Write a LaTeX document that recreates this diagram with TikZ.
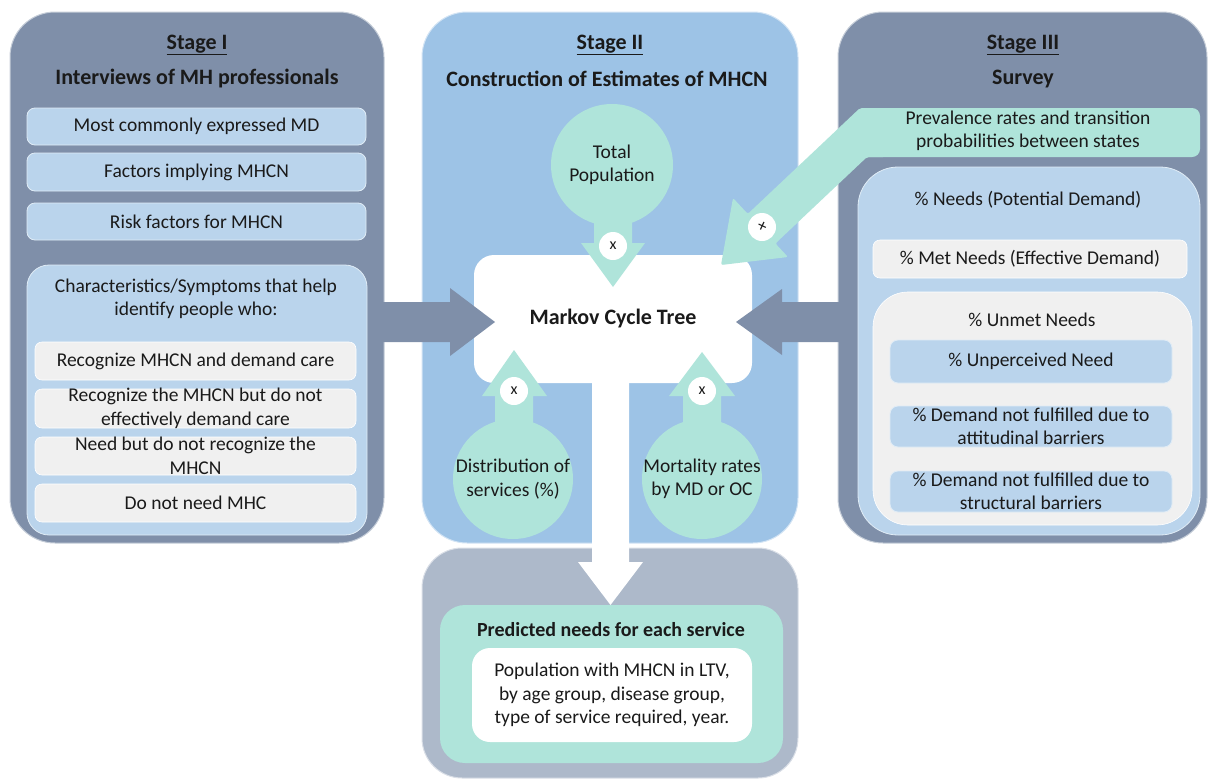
\documentclass[tikz,border=0pt]{standalone}
\usepackage{fontspec}
\setmainfont{Carlito}
\usetikzlibrary{calc}
\definecolor{stagegray}{RGB}{127,143,169}
\definecolor{stageblue}{RGB}{157,195,230}
\definecolor{lightblue}{RGB}{186,212,236}
\definecolor{boxgray}{RGB}{240,240,240}
\definecolor{mint}{RGB}{175,228,218}
\definecolor{bottomgray}{RGB}{173,185,202}
\definecolor{textcol}{RGB}{26,26,26}
\begin{document}
\begin{tikzpicture}[x=1pt,y=-1pt,
  stagebox/.style={fill=stagegray, draw=white!55!stagegray, line width=1pt, rounded corners=45pt, inner sep=0pt},
  bluebox/.style={fill=lightblue, draw=white!55!lightblue, line width=0.8pt, rounded corners=8pt, inner sep=0pt},
  graybox/.style={fill=boxgray, draw=white, line width=0.6pt, rounded corners=7pt, inner sep=0pt},
  txt/.style={font=\fontsize{19.5}{23.5}\selectfont, align=center, text=textcol, inner sep=0pt},
  ttl/.style={font=\fontsize{22}{26}\selectfont\bfseries, align=center, text=textcol, inner sep=0pt},
  mintcirc/.style={circle, fill=mint, inner sep=0pt, minimum size=122pt},
  xcirc/.style={circle, fill=white, inner sep=0pt, minimum size=28pt, font=\fontsize{16}{18}\selectfont, text=textcol},
  garrow/.style={fill=stagegray},
  marrow/.style={fill=mint},
  warrow/.style={fill=white}
]
\useasboundingbox (0,0) rectangle (1208,780);

% ---------- Stage boxes ----------
\node[stagebox, minimum width=374pt, minimum height=531pt] (s1) at (197,277.5) {};
\node[stagebox, fill=stageblue, draw=white!55!stageblue, minimum width=376pt, minimum height=531pt] (s2) at (610,277.5) {};
\node[stagebox, minimum width=369pt, minimum height=531pt] (s3) at (1022.5,277.5) {};
\node[stagebox, fill=bottomgray, draw=white!55!bottomgray, rounded corners=40pt, minimum width=376pt, minimum height=230pt] (s4) at (610,663) {};

% ---------- Stage I ----------
\node[ttl] (t1a) at (197,45) {\underline{Stage I}};
\node[ttl] (t1b) at (197,79) {Interviews of MH professionals};
\node[bluebox, minimum width=339pt, minimum height=37pt] (md) at (196.5,126.5) {};
\node[txt] (mdt) at (md) {Most commonly expressed MD};
\node[bluebox, minimum width=339pt, minimum height=38pt] (fac) at (196.5,172) {};
\node[txt] (fact) at (fac) {Factors implying MHCN};
\node[bluebox, minimum width=339pt, minimum height=37pt] (risk) at (196.5,221.5) {};
\node[txt] (riskt) at (risk) {Risk factors for MHCN};
\node[bluebox, rounded corners=22pt, minimum width=340pt, minimum height=270pt] (chr) at (197,400) {};
\node[txt] (chrt) at (196,299) {Characteristics/Symptoms that help\\identify people who:};
\node[graybox, minimum width=321pt, minimum height=38pt] (r1) at (195.5,361) {};
\node[txt] (r1t) at (r1) {Recognize MHCN and demand care};
\node[graybox, minimum width=321pt, minimum height=39pt] (r2) at (195.5,408.5) {};
\node[txt] (r2t) at (r2) {Recognize the MHCN but do not\\effectively demand care};
\node[graybox, minimum width=321pt, minimum height=38pt] (r3) at (195.5,456) {};
\node[txt] (r3t) at (r3) {Need but do not recognize the\\MHCN};
\node[graybox, minimum width=321pt, minimum height=38pt] (r4) at (195.5,503) {};
\node[txt] (r4t) at (r4) {Do not need MHC};

% ---------- Stage II ----------
\node[ttl] (t2a) at (610,45) {\underline{Stage II}};
\node[ttl] (t2b) at (607,79) {Construction of Estimates of MHCN};
\node[mintcirc] (tp) at (612,165) {};
\node[txt] (tpt) at (tp) {Total\\Population};
\node[mintcirc, minimum size=120pt] (dist) at (513,479) {};
\node[txt] (distt) at (dist) {Distribution of\\services (\%)};
\node[mintcirc, minimum size=120pt] (mort) at (702,479) {};
\node[txt] (mortt) at (mort) {Mortality rates\\by MD or OC};

\node[fill=white, rounded corners=20pt, minimum width=278pt, minimum height=128pt, inner sep=0pt] (mk) at (613,319) {};

% white output arrow
\coordinate (wtip) at (610.5,605);
\fill[warrow] (592,380) -- (592,562) -- (578,562) -- (wtip) -- (643,562) -- (629,562) -- (629,380) -- cycle;

% gray arrows
\coordinate (ltip) at (495,322);
\coordinate (rtip) at (736,322);
\fill[garrow] (382,302) -- (450,302) -- (450,288) -- (ltip) -- (450,356) -- (450,342) -- (382,342) -- cycle;
\fill[garrow] (841,302) -- (782,302) -- (782,289) -- (rtip) -- (782,355) -- (782,342) -- (841,342) -- cycle;

% mint arrows
\coordinate (tptip) at (613,287);
\fill[marrow] (594,215) -- (594,243) -- (581,243) -- (tptip) -- (645,243) -- (632,243) -- (632,215) -- cycle;
\coordinate (dtip) at (514,350);
\fill[marrow] (495,425) -- (495,396) -- (482,396) -- (dtip) -- (547,396) -- (533,396) -- (533,425) -- cycle;
\coordinate (mtip) at (702,352);
\fill[marrow] (683,425) -- (683,396) -- (669,396) -- (mtip) -- (735,396) -- (721,396) -- (721,425) -- cycle;

\node[ttl] (mkt) at (mk) {Markov Cycle Tree};

\node[xcirc] (x1) at (613,246) {x};
\node[xcirc] (x2) at (514,391) {x};
\node[xcirc] (x3) at (702,391) {x};

% ---------- Stage III ----------
\node[ttl] (t3a) at (1023,45) {\underline{Stage III}};
\node[ttl] (t3b) at (1023,79) {Survey};

\node[fill=mint, rounded corners=8pt, minimum width=340pt, minimum height=49pt, inner sep=0pt] (prev) at (1030,132.5) {};
\coordinate (ptip) at (721,265);
\fill[marrow, rounded corners=2pt] (885,108) -- (860,108) -- (747.8,213.9) -- (733,198) -- (ptip) -- (788,257) -- (775.4,243.5) -- (867,157) -- (885,157) -- cycle;
\node[txt] (prevt) at (1028,131) {Prevalence rates and transition\\probabilities between states};
\node[xcirc] (pc) at (762,227) {};
\node[font=\fontsize{18}{18}\selectfont, text=textcol, rotate=-25, inner sep=0pt] (pct) at (pc) {+};

\node[bluebox, rounded corners=40pt, minimum width=342pt, minimum height=368pt] (need) at (1029,351) {};
\node[txt] (needt) at (1028,200) {\% Needs (Potential Demand)};
\node[graybox, minimum width=314pt, minimum height=38pt] (met) at (1030,259) {};
\node[txt] (mett) at (met) {\% Met Needs (Effective Demand)};
\node[graybox, rounded corners=35pt, minimum width=319pt, minimum height=233pt] (unmet) at (1032.5,408.5) {};
\node[txt] (unmett) at (1032,320) {\% Unmet Needs};
\node[bluebox, minimum width=282pt, minimum height=43pt] (unp) at (1031,361.5) {};
\node[txt] (unpt) at (unp) {\% Unperceived Need};
\node[bluebox, minimum width=282pt, minimum height=41pt] (att) at (1031,426.5) {};
\node[txt] (attt) at (att) {\% Demand not fulfilled due to\\attitudinal barriers};
\node[bluebox, minimum width=282pt, minimum height=41pt] (str) at (1031,491.5) {};
\node[txt] (strt) at (str) {\% Demand not fulfilled due to\\structural barriers};

% ---------- Bottom ----------
\node[fill=mint, rounded corners=25pt, minimum width=343pt, minimum height=158pt, inner sep=0pt] (pred) at (611.5,684) {};
\node[font=\fontsize{20}{24}\selectfont\bfseries, text=textcol, inner sep=0pt] (predt) at (611,630) {Predicted needs for each service};
\node[fill=white, rounded corners=18pt, minimum width=280pt, minimum height=94pt, inner sep=0pt] (popb) at (612,695) {};
\node[txt] (popt) at (popb) {Population with MHCN in LTV,\\by age group, disease group,\\type of service required, year.};
\end{tikzpicture}
\end{document}
